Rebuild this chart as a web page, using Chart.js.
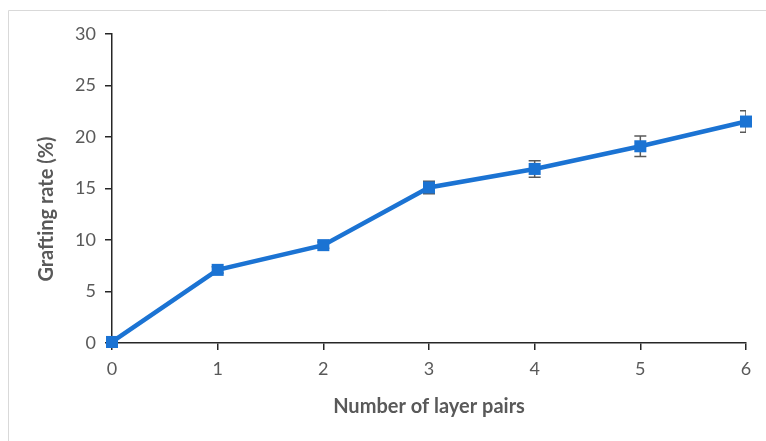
<!DOCTYPE html>
<html>
<head>
<meta charset="utf-8">
<script src="https://cdn.jsdelivr.net/npm/chart.js@4.4.1/dist/chart.umd.min.js"></script>
<style>
  html, body { margin: 0; padding: 0; background: #fff; }
  #wrap { width: 766px; height: 441px; position: relative; }
</style>
</head>
<body>
<div id="wrap"><canvas id="c" width="766" height="441"></canvas></div>
<script>
// Grafting rate versus number of deposited layer pairs
const layerPairs = [0, 1, 2, 3, 4, 5, 6];
const graftingRate = [0.1, 7.1, 9.5, 15.1, 16.9, 19.1, 21.5];
const rateError = [0.0, 0.3, 0.3, 0.6, 0.8, 1.0, 1.05];
const yTicks = [0, 5, 10, 15, 20, 25, 30];

const FONT = "Lato, 'Open Sans', 'Liberation Sans', sans-serif";
const TEXT = '#595959';
const AXIS = '#262626';
const BLUE = '#1B73D3';

// outer frame of the figure
const framePlugin = {
  id: 'frame',
  beforeDraw(chart) {
    const ctx = chart.ctx;
    ctx.save();
    ctx.strokeStyle = '#d9d9d9';
    ctx.lineWidth = 1;
    ctx.beginPath();
    ctx.moveTo(8.5, 441);
    ctx.lineTo(8.5, 10.5);
    ctx.lineTo(766, 10.5);
    ctx.stroke();
    ctx.restore();
  }
};

// vertical error bars with caps, drawn beneath the markers
const errorBarPlugin = {
  id: 'errorBars',
  beforeDatasetsDraw(chart) {
    const ctx = chart.ctx;
    const xs = chart.scales.x, ys = chart.scales.y;
    const a = chart.chartArea;
    ctx.save();
    ctx.beginPath();
    ctx.rect(a.left, 0, a.right - a.left, chart.height);
    ctx.clip();
    ctx.strokeStyle = '#595959';
    ctx.lineWidth = 1.5;
    layerPairs.forEach((xv, i) => {
      const e = rateError[i];
      if (!e) return;
      const px = xs.getPixelForValue(xv);
      const top = ys.getPixelForValue(graftingRate[i] + e);
      const bot = ys.getPixelForValue(graftingRate[i] - e);
      ctx.beginPath();
      ctx.moveTo(px, top); ctx.lineTo(px, bot);
      ctx.moveTo(px - 6, top); ctx.lineTo(px + 6, top);
      ctx.moveTo(px - 6, bot); ctx.lineTo(px + 6, bot);
      ctx.stroke();
    });
    ctx.restore();
  }
};

// axis titles
const titlePlugin = {
  id: 'axisTitles',
  afterDraw(chart) {
    const ctx = chart.ctx;
    const a = chart.chartArea;
    ctx.save();
    ctx.fillStyle = TEXT;
    ctx.font = "bold 20px " + FONT;
    ctx.textAlign = 'center';
    ctx.textBaseline = 'middle';
    ctx.fillText('Number of layer pairs', (a.left + a.right) / 2, 407);
    ctx.translate(47, 209);
    ctx.rotate(-Math.PI / 2);
    ctx.fillText('Grafting rate (%)', 0, 0);
    ctx.restore();
  }
};

new Chart(document.getElementById('c'), {
  type: 'line',
  data: {
    datasets: [{
      data: layerPairs.map((x, i) => ({ x: x, y: graftingRate[i] })),
      borderColor: BLUE,
      backgroundColor: BLUE,
      borderWidth: 4.5,
      pointStyle: 'rect',
      pointRadius: 8.5,
      pointHoverRadius: 8.5,
      pointBorderWidth: 0,
      tension: 0,
      clip: false
    }]
  },
  options: {
    responsive: false,
    animation: false,
    events: [],
    layout: { padding: { left: 0, right: 20, top: 34, bottom: 0 } },
    plugins: { legend: { display: false }, tooltip: { enabled: false } },
    scales: {
      x: {
        type: 'linear',
        min: 0, max: 6,
        afterFit(s) { s.height = 98; },
        grid: { drawOnChartArea: false, drawTicks: true, tickLength: 7, color: AXIS, lineWidth: 1.5 },
        border: { color: AXIS, width: 1.5 },
        ticks: { stepSize: 1, color: TEXT, padding: 8, font: { family: FONT, size: 18 } }
      },
      y: {
        min: 0, max: 30,
        afterBuildTicks(s) { s.ticks = yTicks.map(v => ({ value: v })); },
        afterFit(s) { s.width = 112; },
        grid: { drawOnChartArea: false, drawTicks: true, tickLength: 7, color: AXIS, lineWidth: 1.5 },
        border: { color: AXIS, width: 1.5 },
        ticks: { color: TEXT, padding: 9, font: { family: FONT, size: 18 } }
      }
    }
  },
  plugins: [framePlugin, errorBarPlugin, titlePlugin]
});
</script>
</body>
</html>
